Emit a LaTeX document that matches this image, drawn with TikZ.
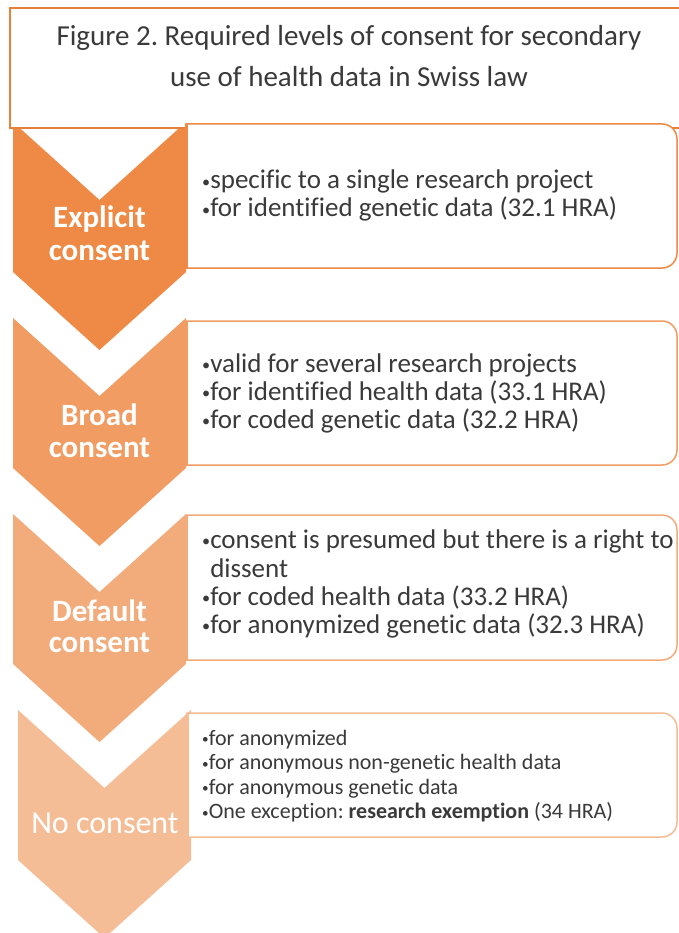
\documentclass[tikz,border=0pt]{standalone}
\usepackage{fontspec}
\usepackage{graphicx}
\setmainfont{Carlito}[Ligatures=NoCommon]
\frenchspacing
\definecolor{c1}{HTML}{EE8A45}
\definecolor{c2}{HTML}{F09C62}
\definecolor{c3}{HTML}{F2AB7B}
\definecolor{c4}{HTML}{F5BD96}
\definecolor{bord}{HTML}{E9803A}
\definecolor{txt}{HTML}{3A3A3A}
\newcommand\bul{\raisebox{0.06em}{\scalebox{0.6}{•}}}
\tikzset{
  titletext/.style={font=\fontsize{29}{32}\selectfont, text=txt, anchor=base, inner sep=0pt},
  chevlabel/.style={font=\bfseries\fontsize{31}{32}\selectfont, text=white, anchor=base, inner sep=0pt},
  boxtext/.style={font=\fontsize{27}{28}\selectfont, text=txt, anchor=base west, inner sep=0pt},
  smalltext/.style={font=\fontsize{22}{24}\selectfont, text=txt, anchor=base west, inner sep=0pt},
  chevfill/.style={fill=#1},
  boxborder/.style={draw=#1, line width=1.5pt, fill=white},
  boxleft/.style={draw=#1, line width=3pt}
}
\begin{document}
\begin{tikzpicture}[x=1pt,y=-1pt]
\useasboundingbox (0,0) rectangle (678,933);
\fill[white] (0,0) rectangle (678,933);
% chevrons
\foreach \t/\dx/\col in {122/0/c1,318/0/c2,514/0/c3,710/5/c4}{
  \path[chevfill=\col] (13+\dx,\t) -- (99.5+\dx,\t+78) -- (186+\dx,\t) -- (186+\dx,\t+150) -- (99.5+\dx,\t+228) -- (13+\dx,\t+150) -- cycle;
}
% title box
\draw[bord, line width=2pt, fill=white] (10,8) rectangle (690,128);
% text boxes
\foreach \t/\b/\col/\dx in {124/268/c1/0,321/465/c2/0,515/660/c3/0,713/837/c4/1}{
  \path[boxborder=\col] (186+\dx,\t) -- (662,\t) arc[start angle=-90, end angle=0, radius=15] -- (677,\b-15) arc[start angle=0, end angle=90, radius=15] -- (186+\dx,\b) -- cycle;
  \path[boxleft=\col] (186+\dx,\t) -- (186+\dx,\b);
}
% title
\node[titletext] (title1) at (349,46) {Figure 2. Required levels of consent for secondary};
\node[titletext] (title2) at (349,87) {use of health data in Swiss law};
% chevron labels
\node[chevlabel] (l1a) at (99.5,228) {Explicit};
\node[chevlabel] (l1b) at (99.5,260) {consent};
\node[chevlabel] (l2a) at (99.5,425) {Broad};
\node[chevlabel] (l2b) at (99.5,457) {consent};
\node[chevlabel] (l3a) at (99.5,621) {Default};
\node[chevlabel] (l3b) at (99.5,652) {consent};
\node[chevlabel, font=\fontsize{32}{32}\selectfont] (l4) at (105,833) {No consent};
% box texts
\node[boxtext] (t1a) at (202,189) {\bul specific to a single research project};
\node[boxtext] (t1b) at (202,217) {\bul for identified genetic data (32.1 HRA)};
\node[boxtext] (t2a) at (202,372) {\bul valid for several research projects};
\node[boxtext] (t2b) at (202,400) {\bul for identified health data (33.1 HRA)};
\node[boxtext] (t2c) at (202,428) {\bul for coded genetic data (32.2 HRA)};
\node[boxtext] (t3a) at (202,548) {\bul consent is presumed but there is a right to};
\node[boxtext] (t3b) at (202,577) {\phantom{\bul}dissent};
\node[boxtext] (t3c) at (202,605) {\bul for coded health data (33.2 HRA)};
\node[boxtext] (t3d) at (202,633) {\bul for anonymized genetic data (32.3 HRA)};
\node[smalltext] (t4a) at (202,745) {\bul for anonymized};
\node[smalltext] (t4b) at (202,769.5) {\bul for anonymous non-genetic health data};
\node[smalltext] (t4c) at (202,794) {\bul for anonymous genetic data};
\node[smalltext] (t4d) at (202,818.5) {\bul One exception: \textbf{research exemption} (34 HRA)};
\end{tikzpicture}
\end{document}
